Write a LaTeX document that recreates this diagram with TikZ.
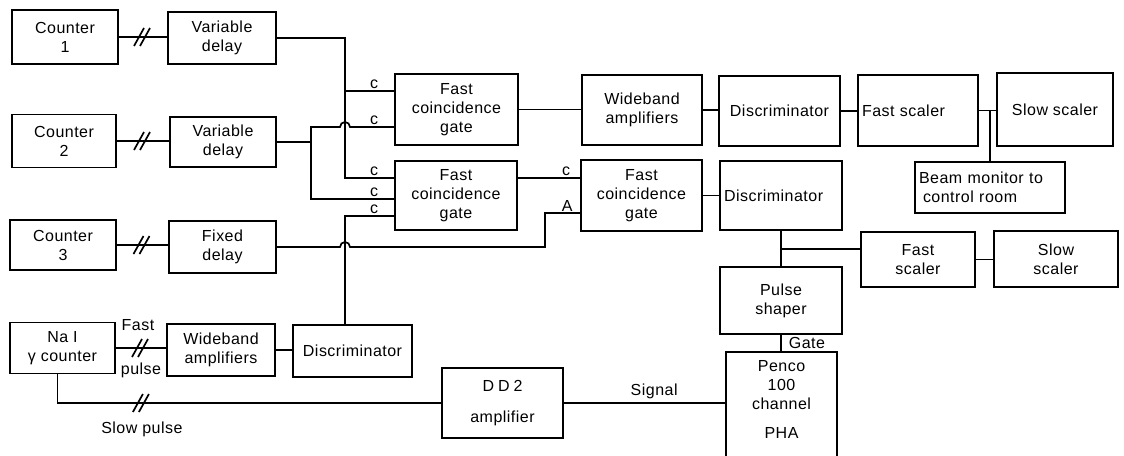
\documentclass[tikz,border=0pt]{standalone}
\usepackage{fontspec}
\setmainfont{Liberation Sans}[LetterSpace=3]
\usepackage{tikz}

% two slanted strokes across a cable
\newcommand{\brk}[1]{\draw #1 ++(-9,9) -- ++(10,-18) #1 ++(-3,9) -- ++(10,-18);}

\begin{document}
\begin{tikzpicture}[x=1pt, y=-1pt, line width=1.7pt,
		every node/.style={font=\fontsize{16}{19}\selectfont},
		blk/.style={draw, align=center, inner sep=3pt},
		lbl/.style={inner sep=1pt}]
		\useasboundingbox (0,0) rectangle (1124,455);

		% Counters and delays
		\node[blk, minimum width=106pt, minimum height=54pt] (cnt1) at (65,37) {Counter\\1};
		\node[blk, minimum width=108pt, minimum height=52pt] (vd1) at (222,38) {Variable\\delay};
		\node[blk, minimum width=104pt, minimum height=53pt] (cnt2) at (64,141) {Counter\\2};
		\node[blk, minimum width=106pt, minimum height=50pt] (vd2) at (223,142) {Variable\\delay};
		\node[blk, minimum width=106pt, minimum height=50pt] (cnt3) at (63,245) {Counter\\3};
		\node[blk, minimum width=107pt, minimum height=52pt] (fd) at (222.5,247) {Fixed\\delay};
		\node[blk, minimum width=105pt, minimum height=51pt] (nai) at (62.5,348) {Na I\\γ counter};
		\node[blk, minimum width=108pt, minimum height=52pt] (wb2) at (221,350) {Wideband\\amplifiers};
		\node[blk, minimum width=119pt, minimum height=52pt] (disc3) at (352.5,351) {Discriminator};

		% Coincidence gates
		\node[blk, minimum width=123pt, minimum height=71pt] (fcg1) at (456.5,109.5) {Fast\\coincidence\\gate};
		\node[blk, minimum width=122pt, minimum height=69pt] (fcg2) at (456,195.5) {Fast\\coincidence\\gate};
		\node[blk, minimum width=121pt, minimum height=71pt] (fcg3) at (641.5,195.5) {Fast\\coincidence\\gate};
		\node[blk, minimum width=120pt, minimum height=70pt] (wb1) at (642,110) {Wideband\\amplifiers};

		% Scalers and pulse height analyser
		\node[blk, minimum width=121pt, minimum height=70pt] (disc1) at (779.5,111) {Discriminator};
		\node[blk, minimum width=122pt, minimum height=69pt, text width=114pt, align=left] (disc2) at (781,195.5) {Discriminator};
		\node[blk, minimum width=120pt, minimum height=71pt, text width=112pt, align=left] (fs1) at (918,110.5) {Fast scaler};
		\node[blk, minimum width=116pt, minimum height=73pt] (ss1) at (1055,109.5) {Slow scaler};
		\node[blk, minimum width=150pt, minimum height=51pt, text width=142pt, align=left] (bm) at (990,187.5) {Beam monitor to\\\hspace{4pt}control room};
		\node[blk, minimum width=114pt, minimum height=55pt] (fs2) at (918,259.5) {Fast\\scaler};
		\node[blk, minimum width=124pt, minimum height=56pt] (ss2) at (1056,259) {Slow\\scaler};
		\node[blk, minimum width=122pt, minimum height=67pt] (ps) at (781,300.5) {Pulse\\shaper};
		\node[blk, minimum width=121pt, minimum height=70pt] (dd2) at (502.5,403) {{\addfontfeature{LetterSpace=25}DD2}\\[12pt]amplifier};
		\node[blk, anchor=north, minimum width=111pt, minimum height=125pt] (pha) at (781.5,351) {Penco\\100\\channel\\[10pt]PHA\\[10pt]\mbox{}};

		% Inputs of the coincidence gates
		\coordinate (i1) at ([yshift=18.5pt]fcg1.west);
		\coordinate (i2) at ([yshift=-17.5pt]fcg1.west);
		\coordinate (i3) at ([yshift=17.5pt]fcg2.west);
		\coordinate (i4) at ([yshift=-3.5pt]fcg2.west);
		\coordinate (i5) at ([yshift=-20.5pt]fcg2.west);
		\coordinate (iC) at ([yshift=17.5pt]fcg3.west);
		\coordinate (iA) at ([yshift=-17.5pt]fcg3.west);
		\coordinate (x1) at (345,0);
		\coordinate (x2) at (311,0);
		\coordinate (x4) at (545,0);
		\node[lbl, anchor=south] (c1) at ([xshift=-20pt]i1) {c};
		\node[lbl, anchor=south] (c2) at ([xshift=-20pt]i2) {c};
		\node[lbl, anchor=south] (c3) at ([xshift=-20pt]i3) {c};
		\node[lbl, anchor=south] (c4) at ([xshift=-20pt]i4) {c};
		\node[lbl, anchor=south] (c5) at ([xshift=-20pt]i5) {c};
		\node[lbl, anchor=south] (cC) at ([xshift=-14pt]iC) {c};
		\node[lbl, anchor=south] (cA) at ([xshift=-13pt]iA) {A};

		% Counter cables
		\draw (cnt1.east) -- coordinate[midway] (s1) (cnt1.east -| vd1.west);
		\brk{(s1)}
		\draw (cnt2.east) -- coordinate[midway] (s2) (cnt2.east -| vd2.west);
		\brk{(s2)}
		\draw (cnt3.east) -- coordinate[midway] (s3) (cnt3.east -| fd.west);
		\brk{(s3)}
		\draw (nai.east) -- coordinate[midway] (s4) (nai.east -| wb2.west);
		\brk{(s4)}
		\node[lbl] (fast) at ([yshift=23pt,xshift=-3pt]s4) {Fast};
		\node[lbl] (pulse) at ([yshift=-22pt]s4) {pulse};
		\draw ([xshift=-5pt]nai.south) |- coordinate[pos=0.61] (s5) (dd2.west);
		\brk{(s5)}
		\node[lbl] (slow) at ([yshift=-26pt]s5) {Slow pulse};
		\draw (wb2.east) -- (wb2.east -| disc3.west);

		% Delays to the coincidence gates
		\draw (vd1.east) -| (x1 |- i3) -- (i3);
		\draw (x1 |- i1) -- (i1);
		\draw (vd2.east) -- (x2 |- vd2.east);
		\draw (i4) -| (x2 |- i2) -- ([xshift=-5pt]x1 |- i2) arc[start angle=180, end angle=360, radius=5] -- (i2);
		\draw (disc3.north -| x1) -- (x1 |- i5) -- (i5);
		\draw (fd.east) -- ([xshift=-5pt]x1 |- fd.east) arc[start angle=180, end angle=360, radius=5] -| (x4 |- iA) -- (iA);
		\draw (fcg2.east |- iC) -- (iC);

		% Counting chains
		\draw (fcg1.east) -- (fcg1.east -| wb1.west);
		\draw (wb1.east) -- (wb1.east -| disc1.west);
		\draw (disc1.east) -- (disc1.east -| fs1.west);
		\draw (fs1.east) -- (fs1.east -| ss1.west);
		\draw (bm.north) -- (bm.north |- fs1.east);
		\draw (fcg3.east) -- (fcg3.east -| disc2.west);
		\draw (disc2.south) -- (ps.north);
		\coordinate (j2) at ([yshift=10.5pt]fs2.west);
		\draw (disc2.south |- j2) -- (j2);
		\draw (fs2.east) -- (fs2.east -| ss2.west);
		\draw (ps.south) -- node[lbl, right=6pt] (gate) {Gate} (ps.south |- pha.north);
		\draw (dd2.east) -- node[lbl, above=2pt, pos=0.56] (sig) {Signal} (dd2.east -| pha.west);
	\end{tikzpicture}
\end{document}
